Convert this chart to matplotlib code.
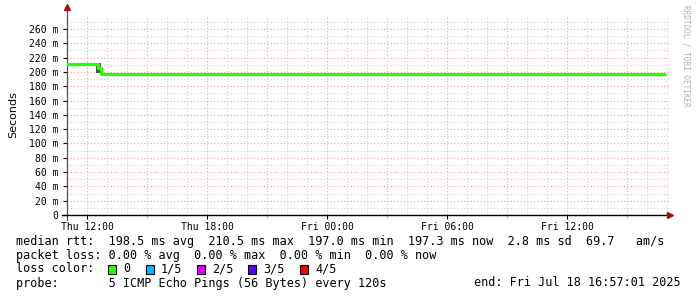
import matplotlib
matplotlib.use("Agg")
import matplotlib.pyplot as plt
import numpy as np

# ---- data (hours since Thu 00:00) ----
median_t = [10.95, 12.55, 12.55, 12.68, 12.68, 40.95]
median_v = [210.5, 210.5, 205.0, 205.0, 197.6, 197.6]
smoke_t = [12.45, 12.68]
smoke_lo = [199.0, 199.0]
smoke_hi = [213.0, 213.0]
xtick_hours = [12, 18, 24, 30, 36]
xtick_labels = ["Thu 12:00", "Thu 18:00", "Fri 00:00", "Fri 06:00", "Fri 12:00"]
ytick_vals = list(range(0, 261, 20))
ytick_labels = ["0"] + [f"{v} m" for v in ytick_vals[1:]]

legend_lines = [
    "median rtt:  198.5 ms avg  210.5 ms max  197.0 ms min  197.3 ms now  2.8 ms sd  69.7   am/s",
    "packet loss: 0.00 % avg  0.00 % max  0.00 % min  0.00 % now",
]
loss_labels = ["0", "1/5", "2/5", "3/5", "4/5"]
loss_colors = ["#26ff00", "#00b8ff", "#dd00ff", "#5e00ff", "#ff0000"]
probe_text = "probe:       5 ICMP Echo Pings (56 Bytes) every 120s"
end_text = "end: Fri Jul 18 16:57:01 2025"

W, H = 697, 297
fig = plt.figure(figsize=(W / 100, H / 100), dpi=100)
fig.patch.set_facecolor("white")

x0, x1 = 67, 669
y_top, y_bot = 14.7, 215
ax = fig.add_axes([x0 / W, 1 - y_bot / H, (x1 - x0) / W, (y_bot - y_top) / H])
ax.set_facecolor("white")
ax.set_xlim(11.0, 41.1)
ax.set_ylim(0, 280)

# grids
for h in np.arange(12, 41.1, 1):
    col = "#f4a0a0" if h % 3 == 0 else "#cfcfcf"
    ax.axvline(h, color=col, lw=0.8, ls=(0, (1, 2)), zorder=1)
for v in range(10, 280, 10):
    col = "#f4a0a0" if v % 20 == 0 else "#cfcfcf"
    ax.axhline(v, color=col, lw=0.8, ls=(0, (1, 2)), zorder=1)

# smoke + median
ax.fill_between(smoke_t, smoke_lo, smoke_hi, color="#505050", lw=0, zorder=2)
ax.plot(median_t, median_v, color="#26ff00", lw=2.3, solid_capstyle="butt", zorder=3)

for s in ["top", "right"]:
    ax.spines[s].set_visible(False)
ax.spines["left"].set_color("#505050")
ax.spines["left"].set_linewidth(0.9)
ax.spines["bottom"].set_color("black")
ax.spines["bottom"].set_linewidth(1.0)
ax.spines["left"].set_bounds(-7, 290)
ax.spines["bottom"].set_bounds(10.75, 41.1)

ax.set_xticks(xtick_hours)
ax.set_xticklabels(xtick_labels, family="DejaVu Sans Mono", fontsize=7)
ax.set_xticks(np.arange(12, 41, 3), minor=True)
ax.set_yticks(ytick_vals)
ax.set_yticklabels(ytick_labels, family="DejaVu Sans Mono", fontsize=7)
ax.tick_params(axis="both", length=3, width=0.8, color="black", pad=2)
ax.tick_params(axis="x", which="minor", length=2, width=0.8, color="#f4a0a0")
ax.tick_params(axis="y", pad=3)

ax.set_ylabel("Seconds", fontsize=8, family="DejaVu Sans", labelpad=8)

# arrows
ax.plot([11.0], [291], marker="^", color="#a01010", ms=4, clip_on=False, zorder=5)
ax.plot([41.15], [0], marker=">", color="#a01010", ms=4, clip_on=False, zorder=5)

# right vertical credit
fig.text(686 / W, 1 - 5 / H, "RRDTOOL / TOBI OETIKER", rotation=270, fontsize=5.5,
         color="#b0b0b0", family="DejaVu Sans Mono", ha="center", va="top")

mono = dict(family="DejaVu Sans Mono", fontsize=8.5, color="black", va="center")
fig.text(16 / W, 1 - 241 / H, legend_lines[0], **mono)
fig.text(16 / W, 1 - 255 / H, legend_lines[1], **mono)
fig.text(16 / W, 1 - 269 / H, "loss color:", **mono)
xs = [108, 146, 197, 248, 300]
for xb, lab, col in zip(xs, loss_labels, loss_colors):
    fig.patches.append(plt.Rectangle((xb / W, 1 - 273.5 / H), 8 / W, 9 / H,
                                     transform=fig.transFigure, facecolor=col,
                                     edgecolor="black", lw=0.8, figure=fig))
    fig.text((xb + 15) / W, 1 - 269 / H, lab, **mono)
fig.text(16 / W, 1 - 283 / H, probe_text, **mono)
fig.text(681 / W, 1 - 283 / H, end_text, ha="right", **mono)

fig.savefig("out.png", dpi=100, facecolor="white")
